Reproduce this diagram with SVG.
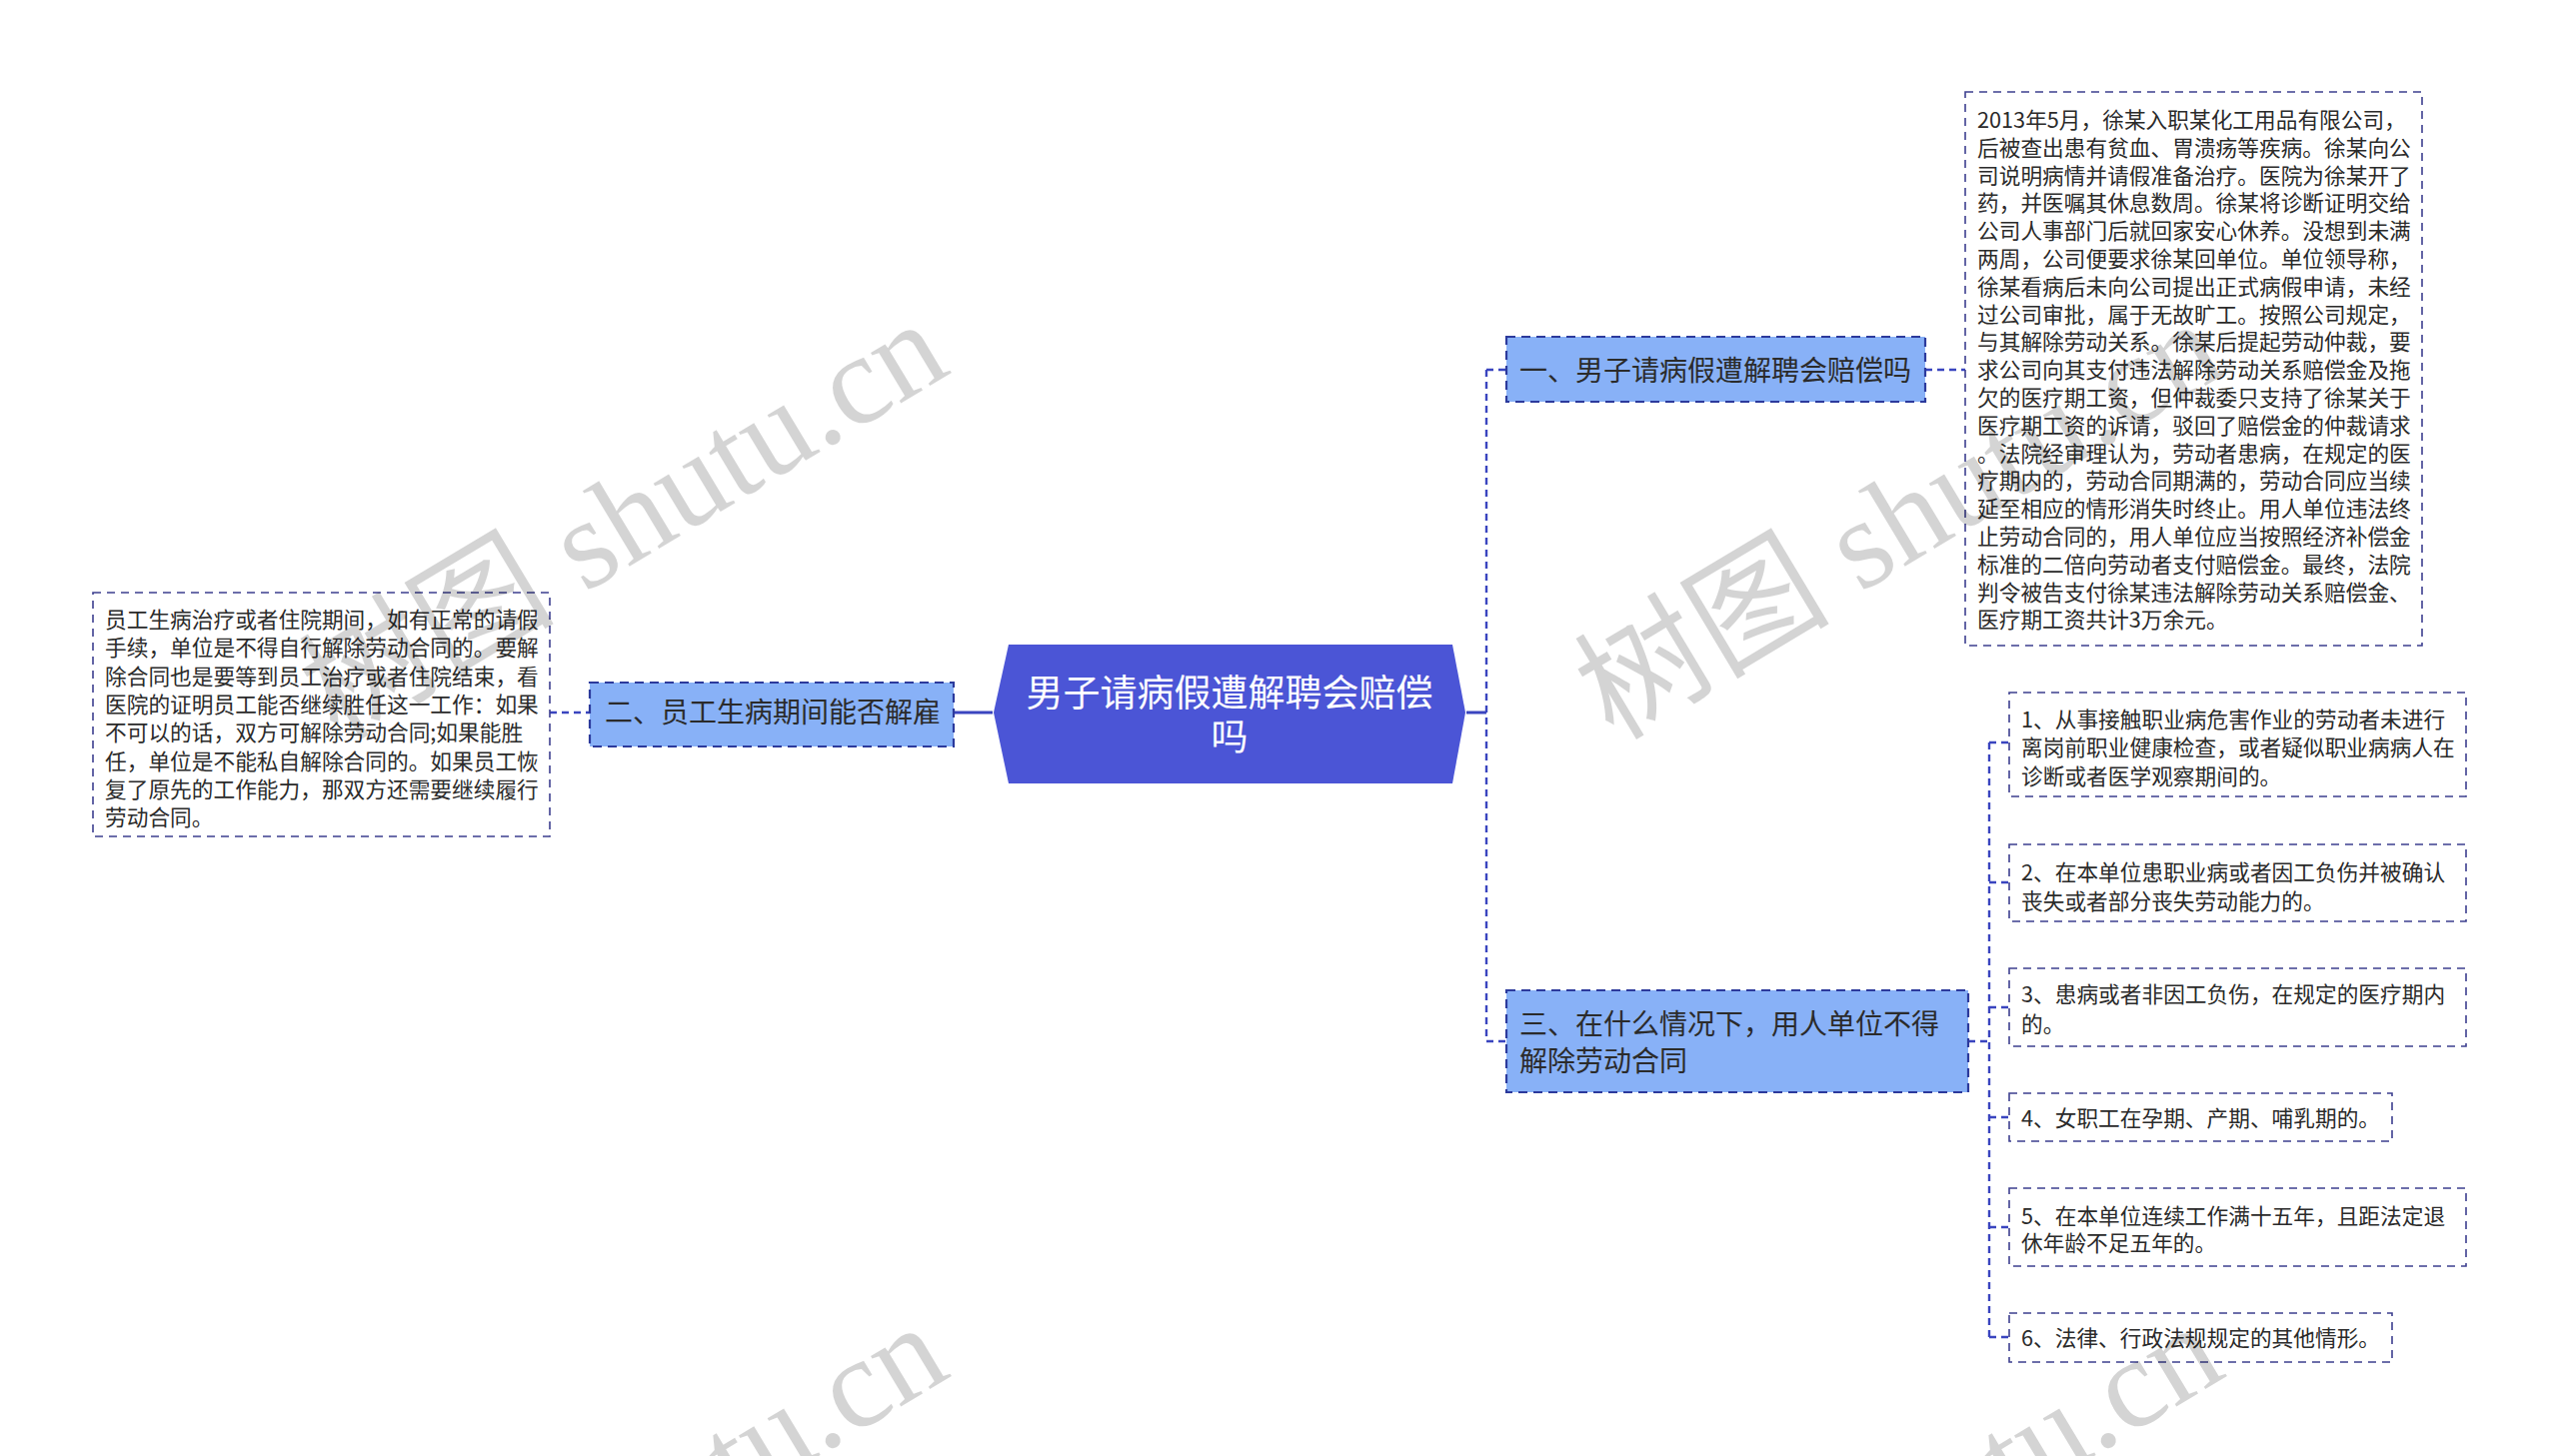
<svg xmlns="http://www.w3.org/2000/svg" width="2560" height="1457" viewBox="0 0 2560 1457">
<style>
text{font-family:"Noto Sans CJK SC","Noto Sans",sans-serif;fill:#2b2b2b}
.leaf{fill:#ffffff;stroke:#3d3f8f;stroke-width:1.6;stroke-dasharray:8 6}
.br{fill:#88b1f7;stroke:#2c3a9c;stroke-width:2.2;stroke-dasharray:9 6}
.lt{font-size:21.7px}
.bt{font-size:28px}
.ct{font-size:37px;fill:#ffffff}
.c{fill:none;stroke:#3a45bf;stroke-width:2.4;stroke-dasharray:7 5}
.cs{fill:none;stroke:#3a45bf;stroke-width:3}
.wm{font-family:"Liberation Serif","Noto Sans CJK SC",serif;font-size:128px;fill:#000;fill-opacity:0.17}
</style>
<rect width="2560" height="1457" fill="#ffffff"/>
<g id="connectors">
<path class="cs" d="M1467 713H1487"/>
<path class="c" d="M1487 370V1042M1487 370H1507M1487 1042H1507"/>
<path class="c" d="M1926 370H1966"/>
<path class="cs" d="M954 713H993"/>
<path class="c" d="M550 713H590"/>
<path class="c" d="M1969 1042H1990"/>
<path class="c" d="M1990 743V1338M1990 743H2010M1990 883H2010M1990 1008H2010M1990 1118H2010M1990 1228H2010M1990 1338H2010"/>
</g>
<g id="center">
<polygon points="994,713 1009,645 1453,645 1466,713 1453,784 1009,784" fill="#4b55d6"/>
<text class="ct" text-anchor="middle"><tspan x="1230" y="707">男子请病假遭解聘会赔偿</tspan><tspan x="1230" y="751">吗</tspan></text>
</g>
<g id="branch1">
<rect class="br" x="1507" y="337" width="419" height="65"/>
<text class="bt" x="1520" y="381">一、男子请病假遭解聘会赔偿吗</text>
</g>
<g id="leaf1">
<rect class="leaf" x="1966" y="92" width="457" height="554"/>
<text class="lt">
<tspan x="1978" y="128">2013年5月，徐某入职某化工用品有限公司，</tspan>
<tspan x="1978" y="155.8">后被查出患有贫血、胃溃疡等疾病。徐某向公</tspan>
<tspan x="1978" y="183.6">司说明病情并请假准备治疗。医院为徐某开了</tspan>
<tspan x="1978" y="211.4">药，并医嘱其休息数周。徐某将诊断证明交给</tspan>
<tspan x="1978" y="239.2">公司人事部门后就回家安心休养。没想到未满</tspan>
<tspan x="1978" y="267">两周，公司便要求徐某回单位。单位领导称，</tspan>
<tspan x="1978" y="294.8">徐某看病后未向公司提出正式病假申请，未经</tspan>
<tspan x="1978" y="322.6">过公司审批，属于无故旷工。按照公司规定，</tspan>
<tspan x="1978" y="350.4">与其解除劳动关系。徐某后提起劳动仲裁，要</tspan>
<tspan x="1978" y="378.2">求公司向其支付违法解除劳动关系赔偿金及拖</tspan>
<tspan x="1978" y="406">欠的医疗期工资，但仲裁委只支持了徐某关于</tspan>
<tspan x="1978" y="433.8">医疗期工资的诉请，驳回了赔偿金的仲裁请求</tspan>
<tspan x="1978" y="461.6">。法院经审理认为，劳动者患病，在规定的医</tspan>
<tspan x="1978" y="489.4">疗期内的，劳动合同期满的，劳动合同应当续</tspan>
<tspan x="1978" y="517.2">延至相应的情形消失时终止。用人单位违法终</tspan>
<tspan x="1978" y="545">止劳动合同的，用人单位应当按照经济补偿金</tspan>
<tspan x="1978" y="572.8">标准的二倍向劳动者支付赔偿金。最终，法院</tspan>
<tspan x="1978" y="600.6">判令被告支付徐某违法解除劳动关系赔偿金、</tspan>
<tspan x="1978" y="628.4">医疗期工资共计3万余元。</tspan>
</text>
</g>
<g id="branch2">
<rect class="br" x="590" y="683" width="364" height="64"/>
<text class="bt" x="605" y="723">二、员工生病期间能否解雇</text>
</g>
<g id="leaf2">
<rect class="leaf" x="93" y="593" width="457" height="244"/>
<text class="lt">
<tspan x="105" y="628">员工生病治疗或者住院期间，如有正常的请假</tspan>
<tspan x="105" y="656.3">手续，单位是不得自行解除劳动合同的。要解</tspan>
<tspan x="105" y="684.6">除合同也是要等到员工治疗或者住院结束，看</tspan>
<tspan x="105" y="712.9">医院的证明员工能否继续胜任这一工作：如果</tspan>
<tspan x="105" y="741.2">不可以的话，双方可解除劳动合同;如果能胜</tspan>
<tspan x="105" y="769.5">任，单位是不能私自解除合同的。如果员工恢</tspan>
<tspan x="105" y="797.8">复了原先的工作能力，那双方还需要继续履行</tspan>
<tspan x="105" y="826.1">劳动合同。</tspan>
</text>
</g>
<g id="branch3">
<rect class="br" x="1507" y="991" width="462" height="102"/>
<text class="bt"><tspan x="1520" y="1035">三、在什么情况下，用人单位不得</tspan><tspan x="1520" y="1072">解除劳动合同</tspan></text>
</g>
<g id="child1">
<rect class="leaf" x="2010" y="693" width="457" height="104"/>
<text class="lt"><tspan x="2022" y="728">1、从事接触职业病危害作业的劳动者未进行</tspan><tspan x="2022" y="756">离岗前职业健康检查，或者疑似职业病病人在</tspan><tspan x="2022" y="785">诊断或者医学观察期间的。</tspan></text>
</g>
<g id="child2">
<rect class="leaf" x="2010" y="845" width="457" height="77"/>
<text class="lt"><tspan x="2022" y="881">2、在本单位患职业病或者因工负伤并被确认</tspan><tspan x="2022" y="910">丧失或者部分丧失劳动能力的。</tspan></text>
</g>
<g id="child3">
<rect class="leaf" x="2010" y="969" width="457" height="78"/>
<text class="lt"><tspan x="2022" y="1003">3、患病或者非因工负伤，在规定的医疗期内</tspan><tspan x="2022" y="1033">的。</tspan></text>
</g>
<g id="child4">
<rect class="leaf" x="2010" y="1094" width="383" height="48"/>
<text class="lt" x="2022" y="1127">4、女职工在孕期、产期、哺乳期的。</text>
</g>
<g id="child5">
<rect class="leaf" x="2010" y="1189" width="457" height="78"/>
<text class="lt"><tspan x="2022" y="1225">5、在本单位连续工作满十五年，且距法定退</tspan><tspan x="2022" y="1252">休年龄不足五年的。</tspan></text>
</g>
<g id="child6">
<rect class="leaf" x="2010" y="1314" width="383" height="49"/>
<text class="lt" x="2022" y="1347">6、法律、行政法规规定的其他情形。</text>
</g>
<g id="watermarks">
<text class="wm" transform="translate(338,742) rotate(-31)">树图 shutu.cn</text>
<text class="wm" transform="translate(1614,742) rotate(-31)">树图 shutu.cn</text>
<text class="wm" transform="translate(338,1746) rotate(-31)">树图 shutu.cn</text>
<text class="wm" transform="translate(1614,1746) rotate(-31)">树图 shutu.cn</text>
</g>
</svg>
